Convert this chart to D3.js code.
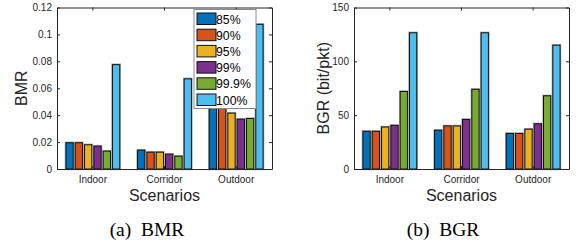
<!DOCTYPE html>
<html>
<head>
<meta charset="utf-8">
<script src="https://cdn.jsdelivr.net/npm/d3@7"></script>
<style>
  body { margin: 0; background: #fff; }
  svg text { font-family: "Liberation Sans", Arial, sans-serif; }
</style>
</head>
<body>
<svg id="chart" width="580" height="246"></svg>
<script>
// data
const scenarios = ["Indoor", "Corridor", "Outdoor"];
const levels = ["85%", "90%", "95%", "99%", "99.9%", "100%"];
const colors = ["#0072BD", "#D95319", "#EDB120", "#7E2F8E", "#77AC30", "#4DBEEE"];

// BMR, one array per level (Indoor, Corridor, Outdoor)
const bmr85 = [0.0195, 0.014, 0.047];
const bmr90 = [0.0195, 0.0125, 0.046];
const bmr95 = [0.018, 0.0125, 0.0415];
const bmr99 = [0.017, 0.011, 0.037];
const bmr999 = [0.0133, 0.0095, 0.0375];
const bmr100 = [0.0775, 0.067, 0.1075];
const bmrTicks = [0, 0.02, 0.04, 0.06, 0.08, 0.1, 0.12];
const bmrTickLabels = ["0", "0.02", "0.04", "0.06", "0.08", "0.1", "0.12"];

// BGR (bit/pkt)
const bgr85 = [35, 36, 33];
const bgr90 = [35, 40, 33];
const bgr95 = [39, 40, 37];
const bgr99 = [40.5, 46, 42];
const bgr999 = [72, 74, 68];
const bgr100 = [126.5, 126.5, 115];
const bgrTicks = [0, 50, 100, 150];
const bgrTickLabels = ["0", "50", "100", "150"];

const svg = d3.select("#chart");
const ink = "#262626";

function drawPanel(opts) {
  const {x0, x1, y0, y1, series, ticks, tickLabels, ylabel, ylabelX, legend} = opts;
  const g = svg.append("g");

  const x = d3.scaleBand().domain(scenarios).range([x0, x1]).padding(0);
  const bw = x.bandwidth();
  const inner = d3.scaleBand().domain(levels)
    .range([-0.39 * bw, 0.39 * bw]).paddingInner(0.22).paddingOuter(0.11);
  const y = d3.scaleLinear().domain([ticks[0], ticks[ticks.length - 1]]).range([y1, y0]);

  // bars: soft grey halo, then dark edge
  series.forEach((vals, i) => {
    const bx = (d, j) => x(scenarios[j]) + bw / 2 + inner(levels[i]);
    g.selectAll(null).data(vals).enter().append("rect")
      .attr("x", bx).attr("y", d => y(d))
      .attr("width", inner.bandwidth()).attr("height", d => y1 - y(d))
      .attr("fill", "none").attr("stroke", "#aaa").attr("stroke-width", 2.4);
    g.selectAll(null).data(vals).enter().append("rect")
      .attr("x", bx).attr("y", d => y(d))
      .attr("width", inner.bandwidth()).attr("height", d => y1 - y(d))
      .attr("fill", colors[i]).attr("stroke", "#111").attr("stroke-width", 1);
  });

  // axes with inward ticks
  const styleAxis = sel => {
    sel.select(".domain").attr("stroke", ink);
    sel.selectAll(".tick line").attr("stroke", ink);
    sel.selectAll("text").attr("fill", ink).style("font-size", "10px")
      .style("font-family", "Liberation Sans, Arial, sans-serif");
  };
  g.append("g").attr("transform", `translate(${x0},0)`)
    .call(d3.axisLeft(y).tickValues(ticks).tickFormat((d, i) => tickLabels[i])
      .tickSizeInner(-3).tickSizeOuter(0).tickPadding(5))
    .call(styleAxis);
  g.append("g").attr("transform", `translate(${x1},0)`)
    .call(d3.axisRight(y).tickValues(ticks).tickFormat("").tickSizeInner(-3).tickSizeOuter(0))
    .call(styleAxis);
  g.append("g").attr("transform", `translate(0,${y0})`)
    .call(d3.axisTop(x).tickFormat("").tickSizeInner(-3).tickSizeOuter(0))
    .call(styleAxis);
  g.append("g").attr("transform", `translate(0,${y1})`)
    .call(d3.axisBottom(x).tickSizeInner(-3).tickSizeOuter(0).tickPadding(7))
    .call(styleAxis);

  // axis labels
  g.append("text").attr("x", (x0 + x1) / 2).attr("y", 200.5).attr("text-anchor", "middle")
    .attr("fill", ink).style("font-size", "16px").text("Scenarios");
  g.append("text").attr("transform", `translate(${ylabelX},${(y0 + y1) / 2}) rotate(-90)`)
    .attr("text-anchor", "middle").attr("fill", ink).style("font-size", "16px").text(ylabel);

  if (legend) {
    const lg = g.append("g").attr("transform", `translate(${legend.x},${legend.y})`);
    lg.append("rect").attr("width", 62).attr("height", 99)
      .attr("fill", "#fff").attr("stroke", "#8a8a8a").attr("stroke-width", 1);
    levels.forEach((lv, i) => {
      lg.append("rect").attr("x", 3).attr("y", 3.5 + i * 16.2).attr("width", 19).attr("height", 11.5)
        .attr("fill", colors[i]).attr("stroke", "#111").attr("stroke-width", 1);
      lg.append("text").attr("x", 22).attr("y", 14 + i * 16.2)
        .attr("fill", "#000").style("font-size", "12.3px").text(lv);
    });
  }
}

drawPanel({
  x0: 57, x1: 272, y0: 7.5, y1: 169,
  series: [bmr85, bmr90, bmr95, bmr99, bmr999, bmr100],
  ticks: bmrTicks, tickLabels: bmrTickLabels,
  ylabel: "BMR", ylabelX: 26.5,
  legend: {x: 194, y: 9.5}
});

drawPanel({
  x0: 354, x1: 569, y0: 7.5, y1: 169,
  series: [bgr85, bgr90, bgr95, bgr99, bgr999, bgr100],
  ticks: bgrTicks, tickLabels: bgrTickLabels,
  ylabel: "BGR (bit/pkt)", ylabelX: 328.5
});

// captions
const caps = [["(a)  BMR", 147], ["(b)  BGR", 443]];
caps.forEach(c => {
  svg.append("text").attr("x", c[1]).attr("y", 236).attr("text-anchor", "middle")
    .style("font-family", "Liberation Serif, Times New Roman, serif").style("font-size", "19.5px")
    .style("white-space", "pre").attr("fill", "#000").text(c[0]);
});
</script>
</body>
</html>
